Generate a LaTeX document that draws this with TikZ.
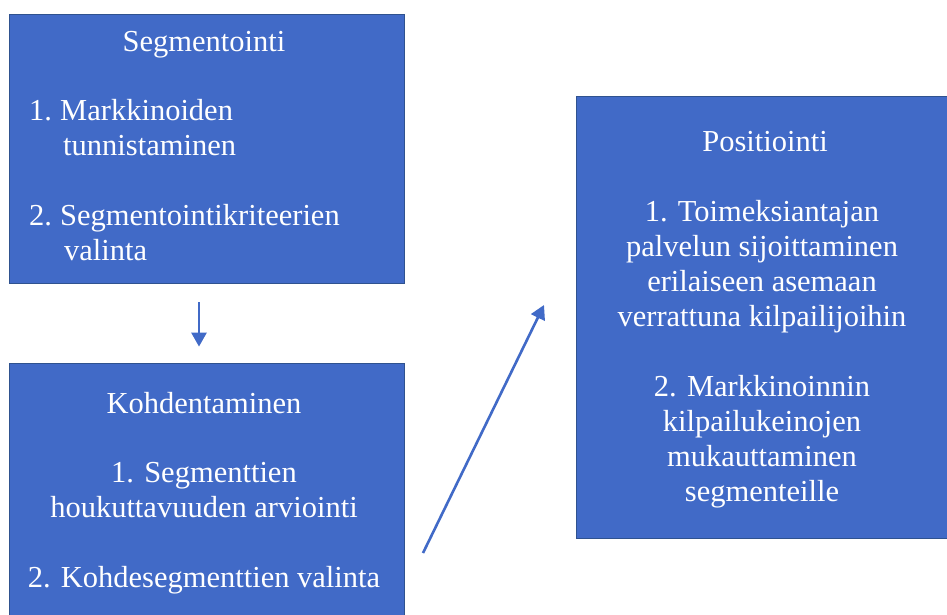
\documentclass[tikz,border=0pt]{standalone}
\usepackage{fontspec}
\setmainfont{Liberation Serif}
\usetikzlibrary{arrows.meta}
\definecolor{boxblue}{RGB}{65,106,199}
\definecolor{boxedge}{RGB}{47,82,143}
\tikzset{
  stagebox/.style={draw=boxedge, line width=0.8pt, fill=boxblue, inner sep=0pt},
  stagetext/.style={text=white, inner sep=0pt, font=\fontsize{30.5}{35}\selectfont},
  flowarrow/.style={draw=boxblue, line width=2.6pt, -{Triangle[length=14pt,width=15pt]}}
}

\begin{document}
\begin{tikzpicture}[x=1pt,y=-1pt]
			%%%%% START %%%%%
			\clip (0,0) rectangle (947,614);
			\fill[white] (0,0) rectangle (947,614);
			
			% Segmentointi
			\node[stagebox, minimum width=395pt, minimum height=269pt] (segbox) at (206.5,148.5) {};
			\node[stagetext] (segtitle) at (204,45) {Segmentointi};
			\node[stagetext, align=left, anchor=west] (seglist) at (29,180) {1.\hspace{-2pt} Markkinoiden\\\hspace*{34pt}tunnistaminen\\[35pt]2.\hspace{-2pt} Segmentointikriteerien\\\hspace*{35pt}valinta};
			
			% Kohdentaminen
			\node[stagebox, minimum width=395pt, minimum height=267pt] (kohbox) at (206.5,496.5) {};
			\node[stagetext] (kohtitle) at (204,403) {Kohdentaminen};
			\node[stagetext, align=center] (kohlist) at (204,528) {1. Segmenttien\\houkuttavuuden arviointi\\[35pt]2. Kohdesegmenttien valinta};
			
			% Positiointi
			\node[stagebox, minimum width=384pt, minimum height=442pt] (posbox) at (768,317) {};
			\node[stagetext] (postitle) at (765,142) {Positiointi};
			\node[stagetext, align=center] (poslist) at (762,354) {1. Toimeksiantajan\\palvelun sijoittaminen\\erilaiseen asemaan\\verrattuna kilpailijoihin\\[35pt]2. Markkinoinnin\\kilpailukeinojen\\mukauttaminen\\segmenteille};
			
			% nuolet
			\draw[flowarrow, shorten <=19pt, shorten >=16pt] ([xshift=-7.5pt]segbox.south) -- ([xshift=-7.5pt]kohbox.north);
			\coordinate (kohout) at (423,553);
			\coordinate (posin) at (544,305);
			\draw[flowarrow] (kohout) -- (posin);
			
			%%%%% END %%%%%
\end{tikzpicture}
\end{document}
